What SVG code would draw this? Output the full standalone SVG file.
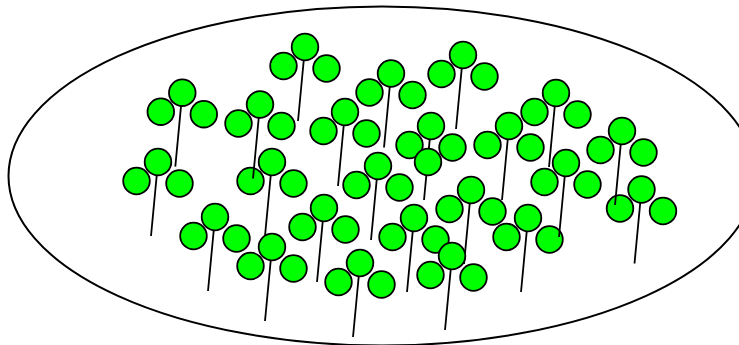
<svg xmlns="http://www.w3.org/2000/svg" xmlns:xlink="http://www.w3.org/1999/xlink" width="739" height="345" viewBox="0 0 739 345">
<style>
.leaf{fill:#00ff00;stroke:#000;stroke-width:1.8}
.stem{stroke:#000;stroke-width:1.8;fill:none}
.field{fill:#fff;stroke:#000;stroke-width:2}
</style>
<defs>
<g id="clover">
<line class="stem" x1="0" y1="0" x2="-7" y2="74"/>
<circle class="leaf" cx="0" cy="0" r="13.3"/>
<circle class="leaf" cx="-21.5" cy="19" r="13.3"/>
<circle class="leaf" cx="21.5" cy="21.5" r="13.3"/>
</g>
</defs>
<rect width="739" height="345" fill="#fff"/>
<ellipse id="field" class="field" cx="382" cy="176" rx="373.5" ry="169.5"/>
<g id="clovers">
<g id="clover-c"><use href="#clover" xlink:href="#clover" x="158" y="162"/></g>
<g id="clover-d"><use href="#clover" xlink:href="#clover" x="272" y="162"/></g>
<g id="clover-x"><use href="#clover" xlink:href="#clover" x="272" y="247"/></g>
<g id="clover-b"><use href="#clover" xlink:href="#clover" x="260" y="104.5"/></g>
<g id="clover-a"><use href="#clover" xlink:href="#clover" x="182.3" y="92.7"/></g>
<g id="clover-e"><use href="#clover" xlink:href="#clover" x="305" y="47"/></g>
<g id="clover-w"><use href="#clover" xlink:href="#clover" x="215" y="217"/></g>
<g id="clover-q"><use href="#clover" xlink:href="#clover" x="324" y="208"/></g>
<g id="clover-s"><use href="#clover" xlink:href="#clover" x="360" y="263"/></g>
<g id="clover-g"><use href="#clover" xlink:href="#clover" x="345" y="112"/></g>
<g id="clover-f"><use href="#clover" xlink:href="#clover" x="391" y="73.5"/></g>
<g id="clover-v"><use href="#clover" xlink:href="#clover" x="378" y="166"/></g>
<g id="clover-h"><use href="#clover" xlink:href="#clover" x="463" y="55"/></g>
<g id="clover-i"><use href="#clover" xlink:href="#clover" x="431" y="126"/></g>
<g id="leaf-j"><circle class="leaf" cx="428" cy="162" r="13.3"/></g>
<g id="clover-u"><use href="#clover" xlink:href="#clover" x="471" y="190"/></g>
<g id="clover-r"><use href="#clover" xlink:href="#clover" x="414" y="218"/></g>
<g id="clover-t"><use href="#clover" xlink:href="#clover" x="452" y="256"/></g>
<g id="clover-k"><use href="#clover" xlink:href="#clover" x="556" y="93"/></g>
<g id="clover-l"><use href="#clover" xlink:href="#clover" x="509" y="126"/></g>
<g id="clover-p"><use href="#clover" xlink:href="#clover" x="528" y="218"/></g>
<g id="clover-n"><use href="#clover" xlink:href="#clover" x="566" y="163"/></g>
<g id="clover-o"><use href="#clover" xlink:href="#clover" x="641.5" y="189.5"/></g>
<g id="clover-m"><use href="#clover" xlink:href="#clover" x="622" y="131"/></g>
</g>
</svg>
